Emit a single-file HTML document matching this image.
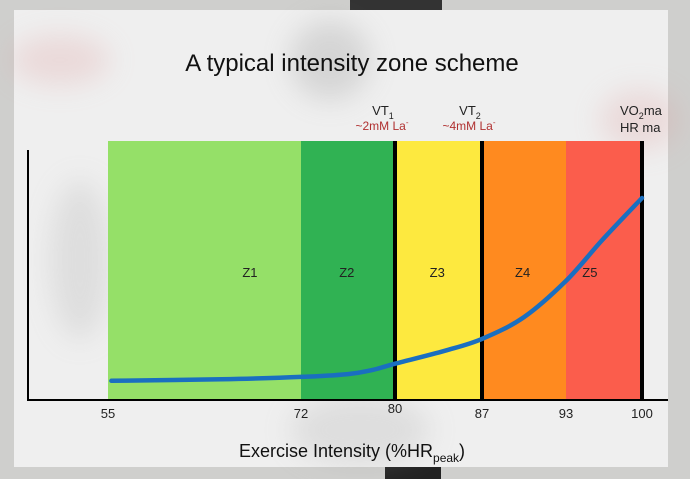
<!DOCTYPE html>
<html><head><meta charset="utf-8"><style>
body{margin:0;width:690px;height:479px;overflow:hidden;background:#cfcfcd;font-family:"Liberation Sans",sans-serif}
svg{display:block}
</style></head><body>
<svg id="c" width="690" height="479">
<defs><filter id="bl"><feGaussianBlur stdDeviation="14"/></filter></defs>
<rect x="350" y="0" width="92" height="12" fill="#333"/>
<rect x="385" y="466" width="56" height="13" fill="#222"/>
<rect x="14" y="10" width="654" height="457" fill="#efefef"/>
<g filter="url(#bl)" opacity="0.25">
<ellipse cx="60" cy="60" rx="50" ry="25" fill="#d99"/>
<ellipse cx="640" cy="120" rx="40" ry="30" fill="#d99"/>
<ellipse cx="330" cy="60" rx="40" ry="40" fill="#888"/>
<ellipse cx="80" cy="260" rx="30" ry="80" fill="#aaa"/>
<ellipse cx="360" cy="430" rx="70" ry="35" fill="#aaa"/>
</g>
<text x="352" y="71" font-size="24" text-anchor="middle" fill="#111">A typical intensity zone scheme</text>
<g id="plot"></g>
</svg>
<script>
const zoneStarts=[55,72,80,87,93];
const zoneEnds=[72,80,87,93,100];
const zoneNames=["Z1","Z2","Z3","Z4","Z5"];
const zoneLabelX=[67.5,75.9,83.4,89.9,95.2];
const zoneColors=["#95e068","#30b253","#fde93f","#ff8a1f","#fb5d4c"];
const tickValues=[55,72,80,87,93,100];
const thresholdValues=[80,87,100];
const curveX=[55.3,65,72,76,78,80,84,87,90,93,96.3,100];
const curveY=[7.4,8,8.9,10,11.5,14,19,23.6,32,46,61.6,78];
const dom=[55,72,80,87,93,100], rng=[108,301,395,482,566,642];
function sx(v){for(let i=0;i<dom.length-1;i++){if(v<=dom[i+1]||i==dom.length-2){const t=(v-dom[i])/(dom[i+1]-dom[i]);return rng[i]+t*(rng[i+1]-rng[i]);}}}
const y0=400,y1=141;
function sy(v){return y0-(v/100)*(y0-y1);}
const NS="http://www.w3.org/2000/svg",g=document.getElementById('plot');
function mk(t,a,p){const e=document.createElementNS(NS,t);for(const k in a)e.setAttribute(k,a[k]);(p||g).appendChild(e);return e;}
zoneStarts.forEach((s,i)=>{
 const r=mk('rect',{x:sx(s),y:y1,width:sx(zoneEnds[i])-sx(s),height:y0-y1,fill:zoneColors[i]});
 
 
 const t=mk('text',{x:sx(zoneLabelX[i]),y:277,'font-size':13,'text-anchor':'middle',fill:'#222'});
 t.textContent=zoneNames[i];
 
 
});
thresholdValues.forEach(v=>{
 const l=mk('line',{x1:sx(v),x2:sx(v),y1:y1,y2:y0,stroke:'#000','stroke-width':4});
 
 
});
const P=curveX.map((x,i)=>[sx(x),sy(curveY[i])]);
let d='M'+P[0][0].toFixed(1)+','+P[0][1].toFixed(1);
for(let i=0;i<P.length-1;i++){
 const p0=P[Math.max(0,i-1)],p1=P[i],p2=P[i+1],p3=P[Math.min(P.length-1,i+2)];
 const c1=[p1[0]+(p2[0]-p0[0])/6,p1[1]+(p2[1]-p0[1])/6],c2=[p2[0]-(p3[0]-p1[0])/6,p2[1]-(p3[1]-p1[1])/6];
 d+='C'+c1.map(n=>n.toFixed(1)).join(',')+' '+c2.map(n=>n.toFixed(1)).join(',')+' '+p2.map(n=>n.toFixed(1)).join(',');
}
const c=mk('path',{d:d,fill:'none',stroke:'#1a6fc0','stroke-width':4.5,'stroke-linejoin':'round','stroke-linecap':'round'});


const ax=mk('path',{d:'M28,150 L28,400 L668,400',fill:'none',stroke:'#000','stroke-width':2});


tickValues.forEach(v=>{
 const t=mk('text',{x:sx(v),y:v==80?413:418,'font-size':13,'text-anchor':'middle',fill:'#222'});
 t.textContent=v;
 
 
});
</script>
<svg style="position:absolute;left:0;top:0" width="690" height="479">
<text x="383" y="115" font-size="13" text-anchor="middle" fill="#222">VT<tspan font-size="9" dy="4">1</tspan></text>
<text x="382" y="130" font-size="12" text-anchor="middle" fill="#b03030">~2mM La<tspan font-size="8" dy="-5">-</tspan></text>
<text x="470" y="115" font-size="13" text-anchor="middle" fill="#222">VT<tspan font-size="9" dy="4">2</tspan></text>
<text x="469" y="130" font-size="12" text-anchor="middle" fill="#b03030">~4mM La<tspan font-size="8" dy="-5">-</tspan></text>
<text x="620" y="115" font-size="13" fill="#222">VO<tspan font-size="9" dy="4">2</tspan><tspan dy="-4">ma</tspan></text>
<text x="620" y="132" font-size="13" fill="#222">HR ma</text>
<text x="352" y="457" font-size="18" text-anchor="middle" fill="#111">Exercise Intensity (%HR<tspan font-size="12" dy="5">peak</tspan><tspan dy="-5">)</tspan></text>
</svg>
</body></html>
